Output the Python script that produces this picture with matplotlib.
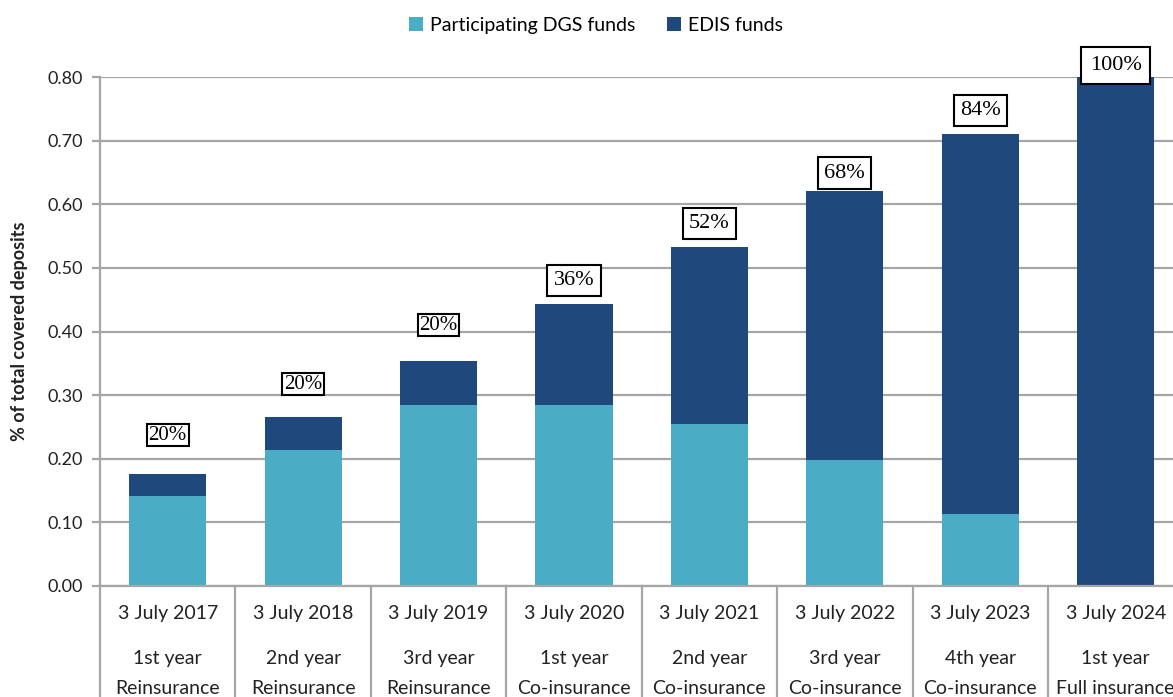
import matplotlib
matplotlib.use("Agg")
import matplotlib.pyplot as plt
import matplotlib.transforms as mtransforms
from matplotlib.patches import Patch
import numpy as np

dates = ["3 July 2017", "3 July 2018", "3 July 2019", "3 July 2020",
         "3 July 2021", "3 July 2022", "3 July 2023", "3 July 2024"]
years = ["1st year", "2nd year", "3rd year", "1st year",
         "2nd year", "3rd year", "4th year", "1st year"]
phases = ["Reinsurance", "Reinsurance", "Reinsurance", "Co-insurance",
          "Co-insurance", "Co-insurance", "Co-insurance", "Full insurance"]
dgs_funds = [0.142, 0.213, 0.285, 0.285, 0.255, 0.198, 0.113, 0.0]
totals = [0.176, 0.265, 0.354, 0.443, 0.533, 0.621, 0.711, 0.80]
edis_funds = [t - d for t, d in zip(totals, dgs_funds)]
share_labels = ["20%", "20%", "20%", "36%", "52%", "68%", "84%", "100%"]
label_y = [0.237, 0.317, 0.410, 0.480, 0.570, 0.649, 0.747, 0.818]

LIGHT = "#4BACC6"
DARK = "#1F497D"
GRID = "#A6A6A6"
TXT = "#222222"

plt.rcParams['font.family'] = ['Lato', 'DejaVu Sans']

fig = plt.figure(figsize=(11.73, 6.97), dpi=100)
ax = fig.add_axes([100/1173, 1-586/697, 1-100/1173 + 0.01, (586-77)/697])

x = np.arange(len(dates))
w = 0.57
ax.bar(x, dgs_funds, w, color=LIGHT, zorder=3)
ax.bar(x, edis_funds, w, bottom=dgs_funds, color=DARK, zorder=3)

ax.set_ylim(0, 0.80)
ax.set_xlim(-0.5, 7.51)
ticks = np.arange(0, 0.81, 0.1)
ax.set_yticks(ticks)
ax.set_yticklabels([f"{v:.2f}" for v in ticks], fontsize=13, color=TXT)
ax.yaxis.grid(True, color=GRID, linewidth=1.6, zorder=0)
ax.set_axisbelow(True)
ax.tick_params(axis='y', length=6, width=1.6, color=GRID, pad=6)
ax.set_xticks([])
for s in ["top", "right", "bottom"]:
    ax.spines[s].set_visible(False)
ax.spines["left"].set_color(GRID)
ax.spines["left"].set_linewidth(1.6)
ax.axhline(0, color=GRID, linewidth=1.6, zorder=4, clip_on=False)

ax.set_ylabel("% of total covered deposits", fontsize=13, fontweight="bold", labelpad=14, color=TXT)

for i, (xi, lab, ly) in enumerate(zip(x, share_labels, label_y)):
    tight = i < 3
    pad = 0.08 if tight else (0.4 if i == 7 else 0.28)
    ax.text(xi, ly, lab, ha="center", va="center",
            fontsize=15 if tight else 16,
            family="Liberation Serif", zorder=6, clip_on=False,
            bbox=dict(boxstyle=f"square,pad={pad}",
                      facecolor="white", edgecolor="black", linewidth=1.5))

trans = mtransforms.blended_transform_factory(ax.transData, ax.transAxes)
for b in np.arange(-0.5, 8.0, 1.0):
    ax.plot([b, b], [0, -0.3], transform=trans, color=GRID, linewidth=1.6, clip_on=False)

for xi, d, yr, ph in zip(x, dates, years, phases):
    ax.text(xi, -0.055, d, transform=trans, ha="center", va="center", fontsize=14, color=TXT)
    ax.text(xi, -0.1415, yr, transform=trans, ha="center", va="center", fontsize=14, color=TXT)
    ax.text(xi, -0.2004, ph, transform=trans, ha="center", va="center", fontsize=14, color=TXT)

handles = [Patch(facecolor=LIGHT, label="Participating DGS funds"),
           Patch(facecolor=DARK, label="EDIS funds")]
fig.legend(handles=handles, loc="center", bbox_to_anchor=(0.508, 0.964), ncol=2,
           frameon=False, fontsize=14, handlelength=0.75, handleheight=0.75,
           handletextpad=0.35, columnspacing=1.6)

fig.savefig("out.png", dpi=100)
